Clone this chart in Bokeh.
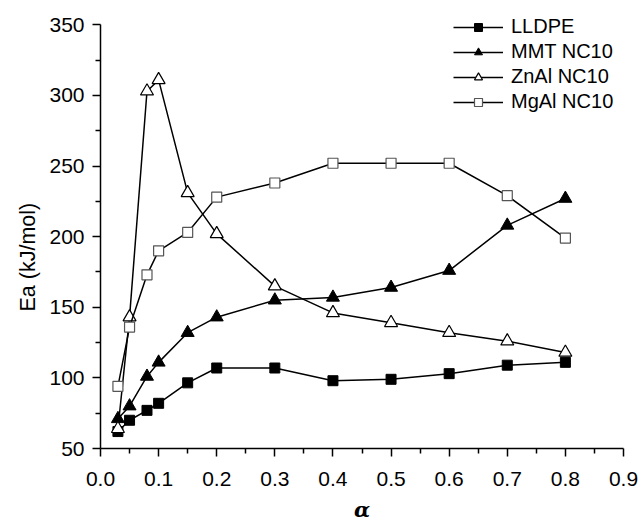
from bokeh.plotting import figure
from bokeh.models import Legend, LegendItem, Range1d, FixedTicker, LinearAxis, Title
from bokeh.embed import file_html
from bokeh.resources import INLINE

alpha = [0.03, 0.05, 0.08, 0.1, 0.15, 0.2, 0.3, 0.4, 0.5, 0.6, 0.7, 0.8]
lldpe = [62, 70, 77, 82, 96.5, 107, 107, 98, 99, 103, 109, 111]
mmt = [71, 80, 101, 111, 132, 143, 155, 157, 164, 176, 208, 227]
znal = [64, 143, 303, 311, 231, 202, 165, 146, 139, 132, 126, 118]
mgal = [94, 136, 173, 190, 203, 228, 238, 252, 252, 252, 229, 199]
series_names = ["LLDPE", "MMT NC10", "ZnAl NC10", "MgAl NC10"]
x_ticks = [0.0, 0.1, 0.2, 0.3, 0.4, 0.5, 0.6, 0.7, 0.8, 0.9]
y_ticks = [50, 100, 150, 200, 250, 300, 350]

FONT = "Liberation Sans"

# frame is extended above 350 so the legend (drawn inside the frame) is not clipped
p = figure(width=640, height=524, output_backend="svg", toolbar_location=None,
           x_range=Range1d(0, 0.9), y_range=Range1d(50, 362.28),
           x_axis_location=None, y_axis_location=None,
           min_border_left=100, min_border_right=17, min_border_top=7, min_border_bottom=72)
p.outline_line_color = None
p.xgrid.visible = False
p.ygrid.visible = False
p.background_fill_color = "white"
p.border_fill_color = "white"

xa = LinearAxis(axis_label="α")
ya = LinearAxis(bounds=(50, 350))
p.add_layout(xa, "below")
p.add_layout(ya, "left")
p.add_layout(Title(text="Ea (kJ/mol)", align="left", offset=137, standoff=14,
                   text_font=FONT, text_font_size="21.5px", text_font_style="normal",
                   text_color="black"), "left")

minor_x = [round(0.05 + 0.1 * i, 2) for i in range(9)]
minor_y = [75 + 50 * i for i in range(6)]
xa.ticker = FixedTicker(ticks=x_ticks, minor_ticks=minor_x)
ya.ticker = FixedTicker(ticks=y_ticks, minor_ticks=minor_y)
xa.major_label_overrides = {t: f"{t:.1f}" for t in x_ticks}

for ax in (xa, ya):
    ax.axis_line_color = "black"
    ax.axis_line_width = 1.5
    ax.major_tick_line_color = "black"
    ax.minor_tick_line_color = "black"
    ax.major_tick_line_width = 1.5
    ax.minor_tick_line_width = 1.5
    ax.major_tick_in = 0
    ax.major_tick_out = 8
    ax.minor_tick_in = 0
    ax.minor_tick_out = 5
    ax.major_label_text_font = FONT
    ax.major_label_text_font_size = "21px"
    ax.major_label_text_color = "black"
    ax.axis_label_text_color = "black"

xa.major_label_standoff = 15
ya.major_label_standoff = 8
xa.axis_label_text_font = "DejaVu Serif"
xa.axis_label_text_font_style = "bold italic"
xa.axis_label_text_font_size = "21px"
xa.axis_label_standoff = 8

lw = 1.5
r1l = p.line(alpha, lldpe, line_color="black", line_width=lw)
r1m = p.scatter(alpha, lldpe, marker="square", size=10, fill_color="black", line_color="black")
r2l = p.line(alpha, mmt, line_color="black", line_width=lw)
r2m = p.scatter(alpha, mmt, marker="triangle", size=13, fill_color="black", line_color="black")
r3l = p.line(alpha, znal, line_color="black", line_width=lw)
r3m = p.scatter(alpha, znal, marker="triangle", size=13, fill_color="white", line_color="black", line_width=1.2)
r4l = p.line(alpha, mgal, line_color="black", line_width=lw)
r4m = p.scatter(alpha, mgal, marker="square", size=10, fill_color="white", line_color="#555555", line_width=1.2)

legend = Legend(items=[
    LegendItem(label=series_names[0], renderers=[r1l, r1m]),
    LegendItem(label=series_names[1], renderers=[r2l, r2m]),
    LegendItem(label=series_names[2], renderers=[r3l, r3m]),
    LegendItem(label=series_names[3], renderers=[r4l, r4m]),
], location=(353, 335))
legend.border_line_color = None
legend.background_fill_alpha = 0
legend.padding = 0
legend.margin = 0
legend.spacing = 2
legend.glyph_width = 50
legend.glyph_height = 20
legend.label_height = 20
legend.label_standoff = 8
legend.label_text_font = FONT
legend.label_text_font_size = "20px"
legend.label_text_color = "black"
p.add_layout(legend, "center")

open("out.html", "w").write(file_html(p, INLINE))
